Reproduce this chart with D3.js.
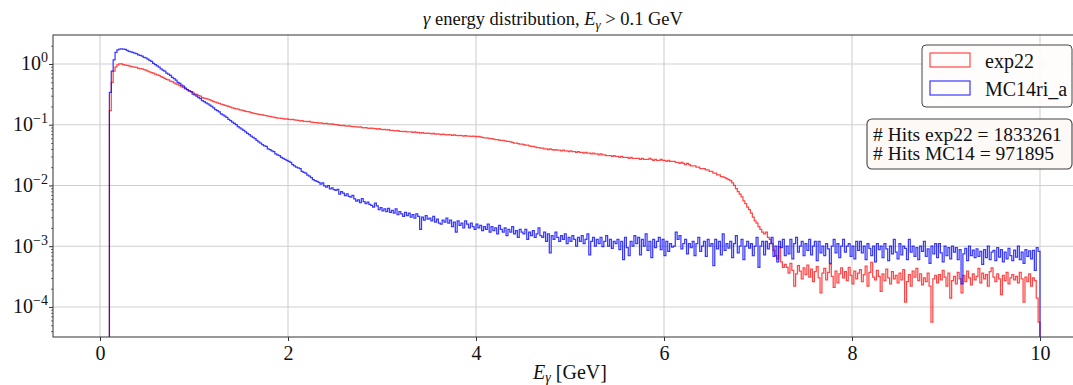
<!DOCTYPE html>
<html>
<head>
<meta charset="utf-8">
<script src="https://cdn.jsdelivr.net/npm/d3@7"></script>
<style>
  body { margin: 0; background: #fff; }
  svg { display: block; }
  svg text { font-family: "Liberation Serif", "Times New Roman", serif; }
</style>
</head>
<body>
<svg id="chart" width="1073" height="385"></svg>
<script>
// histogram binning (left edge of first filled bin, bin width, upper edge)
const binStart = 0.10;
const binWidth = 0.02;
const binEnd = 10.0;

// exp22, normalised counts per bin from 0.10 GeV
const exp22 = [
  0.17, 0.50, 0.76, 0.90, 0.97, 1.00, 1.00, 0.98, 0.96, 0.95,
  0.93, 0.91, 0.90, 0.89, 0.88, 0.85, 0.84, 0.83, 0.81, 0.79,
  0.76, 0.74, 0.72, 0.71, 0.68, 0.66, 0.65, 0.62, 0.60, 0.58,
  0.56, 0.55, 0.52, 0.51, 0.49, 0.47, 0.46, 0.44, 0.42, 0.41,
  0.39, 0.38, 0.36, 0.35, 0.34, 0.32, 0.315, 0.30, 0.295, 0.28,
  0.275, 0.27, 0.263, 0.257, 0.25, 0.24, 0.235, 0.23, 0.224, 0.219,
  0.214, 0.209, 0.204, 0.20, 0.195, 0.19, 0.186, 0.182, 0.18, 0.176,
  0.174, 0.170, 0.166, 0.164, 0.162, 0.158, 0.155, 0.153, 0.151, 0.148,
  0.147, 0.145, 0.142, 0.141, 0.139, 0.137, 0.135, 0.133, 0.131, 0.129,
  0.129, 0.127, 0.126, 0.124, 0.125, 0.123, 0.121, 0.122, 0.120, 0.119,
  0.118, 0.116, 0.117, 0.114, 0.113, 0.112, 0.113, 0.110, 0.109, 0.108,
  0.108, 0.106, 0.107, 0.105, 0.104, 0.105, 0.103, 0.102, 0.103, 0.101,
  0.100, 0.099, 0.098, 0.097, 0.098, 0.096, 0.095, 0.096, 0.094, 0.093,
  0.093, 0.092, 0.091, 0.092, 0.090, 0.089, 0.090, 0.088, 0.087, 0.088,
  0.087, 0.086, 0.085, 0.086, 0.084, 0.083, 0.084, 0.082, 0.083, 0.081,
  0.081, 0.080, 0.079, 0.080, 0.078, 0.078, 0.077, 0.078, 0.076, 0.076,
  0.076, 0.075, 0.076, 0.074, 0.075, 0.073, 0.074, 0.073, 0.072, 0.073,
  0.072, 0.071, 0.072, 0.070, 0.071, 0.070, 0.069, 0.070, 0.069, 0.068,
  0.069, 0.068, 0.067, 0.068, 0.067, 0.066, 0.067, 0.066, 0.065, 0.066,
  0.065, 0.065, 0.064, 0.065, 0.064, 0.063, 0.064, 0.063, 0.062, 0.061,
  0.061, 0.060, 0.059, 0.059, 0.058, 0.057, 0.057, 0.056, 0.055, 0.055,
  0.054, 0.053, 0.053, 0.052, 0.051, 0.050, 0.050, 0.049, 0.048, 0.048,
  0.047, 0.046, 0.046, 0.045, 0.044, 0.044, 0.043, 0.042, 0.042, 0.041,
  0.041, 0.040, 0.040, 0.039, 0.040, 0.039, 0.038, 0.039, 0.038, 0.038,
  0.037, 0.038, 0.037, 0.037, 0.036, 0.037, 0.036, 0.036, 0.035, 0.036,
  0.035, 0.035, 0.034, 0.035, 0.034, 0.034, 0.033, 0.034, 0.033, 0.033,
  0.032, 0.033, 0.032, 0.032, 0.031, 0.031, 0.031, 0.030, 0.031, 0.030,
  0.030, 0.029, 0.030, 0.029, 0.029, 0.029, 0.028, 0.029, 0.028, 0.028,
  0.028, 0.028, 0.027, 0.028, 0.027, 0.027, 0.027, 0.028, 0.027, 0.026,
  0.027, 0.026, 0.026, 0.027, 0.026, 0.026, 0.025, 0.026, 0.025, 0.025,
  0.025, 0.024, 0.024, 0.023, 0.024, 0.023, 0.022, 0.023, 0.022, 0.021,
  0.021, 0.021, 0.020, 0.020, 0.019, 0.019, 0.019, 0.018, 0.018, 0.017,
  0.017, 0.016, 0.016, 0.015, 0.015, 0.014, 0.0138, 0.0135, 0.013, 0.0125,
  0.012, 0.011, 0.010, 0.0089, 0.0079, 0.0072, 0.0065, 0.0056, 0.0050, 0.0044,
  0.0040, 0.0035, 0.0030, 0.0026, 0.0024, 0.0021, 0.0019, 0.0017, 0.0016, 0.0017,
  0.0014, 0.0013, 0.0011, 0.00085, 0.0007, 0.00062, 0.00098, 0.00055, 0.00045, 0.0005,
  4.5e-4, 3.6e-4, 5.2e-4, 4.0e-4, 2.2e-4, 3.5e-4, 4.8e-4, 3.9e-4, 2.9e-4, 4.4e-4,
  3.4e-4, 4.9e-4, 3.1e-4, 4.2e-4, 2.6e-4, 3.8e-4, 4.6e-4, 3.0e-4, 1.7e-4, 3.6e-4,
  4.3e-4, 2.8e-4, 3.7e-4, 5.0e-4, 3.2e-4, 2.1e-4, 3.9e-4, 2.5e-4, 3.5e-4, 4.4e-4,
  3.0e-4, 3.8e-4, 2.7e-4, 4.5e-4, 3.3e-4, 2.4e-4, 3.9e-4, 2.9e-4, 3.6e-4, 4.1e-4,
  2.6e-4, 3.4e-4, 4.7e-4, 2.2e-4, 3.7e-4, 5.4e-4, 3.1e-4, 2.8e-4, 4.0e-4, 3.2e-4,
  1.8e-4, 3.5e-4, 2.7e-4, 4.2e-4, 3.0e-4, 2.4e-4, 3.8e-4, 2.9e-4, 3.3e-4, 2.5e-4,
  3.6e-4, 2.8e-4, 4.1e-4, 1.2e-4, 2.6e-4, 3.4e-4, 2.2e-4, 3.9e-4, 3.1e-4, 4.3e-4,
  2.7e-4, 3.5e-4, 2.3e-4, 3.0e-4, 2.6e-4, 3.6e-4, 2.2e-4, 5.6e-5, 2.9e-4, 3.3e-4,
  2.5e-4, 3.4e-4, 2.8e-4, 4.0e-4, 3.1e-4, 2.2e-4, 3.6e-4, 1.4e-4, 2.7e-4, 3.2e-4,
  2.4e-4, 3.7e-4, 2.9e-4, 1.7e-4, 3.3e-4, 2.6e-4, 3.9e-4, 3.0e-4, 2.3e-4, 3.5e-4,
  2.8e-4, 3.2e-4, 4.3e-4, 2.5e-4, 3.6e-4, 2.9e-4, 3.4e-4, 2.2e-4, 3.8e-4, 4.4e-4,
  3.1e-4, 2.6e-4, 3.5e-4, 2.9e-4, 1.6e-4, 3.3e-4, 2.7e-4, 3.7e-4, 2.4e-4, 3.0e-4,
  3.4e-4, 2.8e-4, 3.2e-4, 2.5e-4, 3.7e-4, 2.9e-4, 1.2e-4, 3.1e-4, 2.6e-4, 3.5e-4,
  2.2e-4, 3.0e-4, 2.7e-4, 1.4e-4, 5.6e-5
];

// MC14ri_a, normalised counts per bin from 0.10 GeV
const mc14 = [
  0.34, 0.76, 1.17, 1.55, 1.70, 1.76, 1.78, 1.76, 1.74, 1.68,
  1.62, 1.58, 1.55, 1.51, 1.48, 1.41, 1.38, 1.35, 1.29, 1.26,
  1.20, 1.15, 1.10, 1.02, 0.98, 0.93, 0.89, 0.83, 0.79, 0.76,
  0.71, 0.68, 0.65, 0.60, 0.575, 0.54, 0.50, 0.48, 0.45, 0.43,
  0.40, 0.38, 0.36, 0.35, 0.32, 0.31, 0.295, 0.28, 0.27, 0.25,
  0.24, 0.23, 0.22, 0.21, 0.20, 0.19, 0.178, 0.17, 0.162, 0.151,
  0.145, 0.138, 0.132, 0.123, 0.117, 0.110, 0.105, 0.100, 0.093, 0.089,
  0.085, 0.081, 0.076, 0.072, 0.069, 0.065, 0.062, 0.059, 0.055, 0.052,
  0.050, 0.047, 0.045, 0.044, 0.040, 0.039, 0.037, 0.036, 0.033, 0.032,
  0.031, 0.029, 0.028, 0.027, 0.026, 0.025, 0.024, 0.022, 0.021, 0.020,
  0.0195, 0.019, 0.017, 0.0165, 0.016, 0.0148, 0.0142, 0.0135, 0.0125, 0.012,
  0.0117, 0.0112, 0.0105, 0.0110, 0.0098, 0.0094, 0.0099, 0.0088, 0.0091, 0.0085,
  0.0083, 0.0086, 0.0072, 0.0079, 0.0075, 0.0068, 0.0073, 0.0066, 0.0064, 0.0069,
  0.0060, 0.0055, 0.0058, 0.0052, 0.0061, 0.0054, 0.0050, 0.0053, 0.0049, 0.0047,
  0.0044, 0.0051, 0.0046, 0.0040, 0.0043, 0.0038, 0.0041, 0.0037, 0.0042, 0.0036,
  0.0039, 0.0035, 0.0041, 0.0033, 0.0037, 0.0034, 0.0031, 0.0036, 0.0032, 0.0035,
  0.0030, 0.0033, 0.0029, 0.0034, 0.0031, 0.0019, 0.0030, 0.0027, 0.0032, 0.0028,
  0.0029, 0.0026, 0.0031, 0.0025, 0.0028, 0.0024, 0.0023, 0.0027, 0.0025, 0.0029,
  0.0024, 0.0027, 0.0021, 0.0025, 0.0017, 0.0026, 0.0022, 0.0024, 0.0020, 0.0026,
  0.0023, 0.0020, 0.0024, 0.0021, 0.0019, 0.0023, 0.0020, 0.0022, 0.0018, 0.0021,
  0.0019, 0.0023, 0.0017, 0.0021, 0.0018, 0.0020, 0.0016, 0.0022, 0.0019, 0.0017,
  0.0020, 0.0015, 0.0019, 0.0017, 0.0021, 0.0016, 0.0018, 0.0014, 0.0019, 0.0017,
  0.0016, 0.0019, 0.0013, 0.0017, 0.0015, 0.0018, 0.0014, 0.0016, 0.0020, 0.0015,
  0.0014, 0.0017, 0.0012, 0.0016, 0.00078, 0.0015, 0.0013, 0.0017, 0.0014, 0.0012,
  0.0015, 0.0013, 0.0016, 0.0011, 0.0014, 0.0012, 0.0015, 0.0013, 0.0010, 0.0014,
  0.0012, 0.0015, 0.0011, 0.0013, 0.0016, 0.00072, 0.0012, 0.0014, 0.0010, 0.0013,
  0.0011, 0.0014, 0.00098, 0.0012, 0.0015, 0.0010, 0.0013, 0.00092, 0.0012, 0.0011,
  0.0013, 0.00088, 0.0012, 0.00060, 0.0014, 0.00095, 0.00070, 0.0012, 0.0010, 0.0015,
  0.0011, 0.0014, 0.00072, 0.0013, 0.0010, 0.0016, 0.00085, 0.0012, 0.00065, 0.0013,
  0.00095, 0.0012, 0.0014, 0.00088, 0.0013, 0.00070, 0.0012, 0.00082, 0.0011, 0.00097,
  0.0010, 0.0017, 0.0013, 0.0015, 0.00090, 0.0011, 0.0013, 0.00075, 0.0011, 0.00095,
  0.0012, 0.00070, 0.0011, 0.0014, 0.00082, 0.0010, 0.0012, 0.00068, 0.0013, 0.0010,
  0.0011, 0.00048, 0.0013, 0.00090, 0.0012, 0.00072, 0.0016, 0.00085, 0.0011, 0.00093,
  0.0012, 0.00065, 0.0011, 0.0015, 0.00078, 0.0010, 0.0013, 0.00060, 0.0010, 0.0012,
  0.00093, 0.0011, 0.00070, 0.0010, 0.0014, 0.00045, 0.0010, 0.0012, 0.00072, 0.0012,
  0.00090, 0.0011, 0.0014, 0.00068, 0.0010, 0.00055, 0.0012, 0.00095, 0.0013, 0.00070,
  0.0010, 0.00075, 0.0013, 0.00062, 0.0011, 0.0014, 0.00080, 0.0010, 0.0012, 0.00070,
  0.0011, 0.00085, 0.0013, 0.00072, 0.0010, 0.0012, 0.00058, 0.0012, 0.00078, 0.0010,
  0.00070, 0.0011, 0.00090, 0.00052, 0.0010, 0.0013, 0.00078, 0.0011, 0.00065, 0.0010,
  0.0013, 0.00080, 0.0010, 0.0011, 0.00068, 0.0010, 0.00062, 0.0012, 0.00085, 0.0012,
  0.00078, 0.0010, 0.00060, 0.0011, 0.00092, 0.00070, 0.0010, 0.00055, 0.0011, 0.00088,
  0.0010, 0.00065, 0.0011, 0.00090, 0.00058, 0.0010, 0.00075, 0.0013, 0.00080, 0.00062,
  0.0011, 0.00072, 0.0010, 0.00092, 0.00060, 0.0013, 0.00080, 0.0010, 0.00068, 0.00095,
  0.00060, 0.0010, 0.00082, 0.0012, 0.00068, 0.00090, 0.00052, 0.0010, 0.00075, 0.0011,
  0.00065, 0.0011, 0.00078, 0.00055, 0.0010, 0.00070, 0.00095, 0.00062, 0.0010, 0.00080,
  0.00095, 0.00060, 0.00088, 0.00024, 0.00075, 0.00092, 0.00058, 0.0010, 0.00070, 0.00086,
  0.00065, 0.00090, 0.00068, 0.00082, 0.00050, 0.00088, 0.00065, 0.0010, 0.00060, 0.00080,
  0.00085, 0.00058, 0.00095, 0.00066, 0.00088, 0.00055, 0.00080, 0.00062, 0.00092, 0.00070,
  0.00058, 0.00086, 0.00066, 0.0010, 0.00060, 0.00080, 0.00052, 0.00088, 0.00068, 0.00084,
  0.00062, 0.00085, 0.00040, 0.00095, 0.00082
];

const seriesNames = ["exp22", "MC14ri_a"];
const seriesColors = ["#ff0000", "#0000ff"];
const seriesAlpha = [0.72, 0.78];
const xTicks = [0, 2, 4, 6, 8, 10];
const yExponents = [-4, -3, -2, -1, 0];
const hitsText = ["# Hits exp22 = 1833261", "# Hits MC14 = 971895"];

const plot = { left: 53, right: 1087, top: 35, bottom: 337 };
const font = "Liberation Serif";

const svg = d3.select("#chart");

const x = d3.scaleLinear().domain([-0.5, 10.5]).range([plot.left, plot.right]);
const y = d3.scaleLog().domain([3.2e-5, 3.0]).range([plot.bottom, plot.top]);

svg.append("defs").append("clipPath").attr("id", "plotclip")
  .append("rect")
  .attr("x", plot.left).attr("y", plot.top)
  .attr("width", plot.right - plot.left).attr("height", plot.bottom - plot.top);

// grid
const grid = svg.append("g").attr("class", "grid");
grid.selectAll("line.gx").data(xTicks).enter().append("line")
  .attr("x1", (d) => x(d)).attr("x2", (d) => x(d))
  .attr("y1", plot.top).attr("y2", plot.bottom)
  .attr("stroke", "#cfcfcf").attr("stroke-width", 1.1);
grid.selectAll("line.gy").data(yExponents).enter().append("line")
  .attr("y1", (d) => y(Math.pow(10, d))).attr("y2", (d) => y(Math.pow(10, d)))
  .attr("x1", plot.left).attr("x2", plot.right)
  .attr("stroke", "#cfcfcf").attr("stroke-width", 1.1);

// step histograms
function stepPoints(values) {
  const pts = [[binStart, null]];
  values.forEach((v, i) => pts.push([binStart + i * binWidth, v]));
  pts.push([binEnd, values[values.length - 1]]);
  pts.push([binEnd, null]);
  return pts;
}

const line = d3.line()
  .x((d) => x(d[0]))
  .y((d) => (d[1] === null || d[1] <= 0) ? plot.bottom + 5 : y(d[1]))
  .curve(d3.curveStepAfter);

const hists = svg.append("g").attr("clip-path", "url(#plotclip)");
[exp22, mc14].forEach((vals, i) => {
  hists.append("path")
    .attr("d", line(stepPoints(vals)))
    .attr("fill", "none")
    .attr("stroke", seriesColors[i])
    .attr("stroke-opacity", seriesAlpha[i])
    .attr("stroke-width", 1.25);
});

// spines
svg.append("rect")
  .attr("x", plot.left).attr("y", plot.top)
  .attr("width", plot.right - plot.left).attr("height", plot.bottom - plot.top)
  .attr("fill", "none").attr("stroke", "#333").attr("stroke-width", 1);

// x axis
const xAxis = svg.append("g")
  .attr("transform", `translate(0,${plot.bottom})`)
  .call(d3.axisBottom(x).tickValues(xTicks).tickSize(4).tickPadding(5).tickFormat(d3.format("d")));
xAxis.select(".domain").remove();
xAxis.attr("font-family", null);
xAxis.selectAll(".tick line").attr("stroke", "#333");
xAxis.selectAll(".tick text")
  .style("font-family", font).attr("font-size", 20).attr("fill", "#111");

// y axis: minor ticks, then major ticks
const minors = [];
for (let e = -5; e <= 0; e++) {
  for (let m = 2; m <= 9; m++) {
    const v = m * Math.pow(10, e);
    if (v > 3.2e-5 && v < 3.0) minors.push(v);
  }
}
const yMinor = svg.append("g")
  .attr("transform", `translate(${plot.left},0)`)
  .call(d3.axisLeft(y).tickValues(minors).tickSize(2).tickFormat(""));
yMinor.select(".domain").remove();
yMinor.selectAll(".tick line").attr("stroke", "#333").attr("stroke-width", 0.7);

const yMajor = svg.append("g")
  .attr("transform", `translate(${plot.left},0)`)
  .call(d3.axisLeft(y).tickValues(yExponents.map((e) => Math.pow(10, e))).tickSize(4).tickFormat(""));
yMajor.select(".domain").remove();
yMajor.selectAll(".tick line").attr("stroke", "#333");

const yLab = svg.append("g").attr("fill", "#111");
yExponents.forEach((e) => {
  const t = yLab.append("text")
    .attr("x", plot.left - 5)
    .attr("y", y(Math.pow(10, e)) + 6.5)
    .attr("text-anchor", "end")
    .style("font-family", font)
    .attr("font-size", 20);
  t.append("tspan").text("10");
  t.append("tspan").attr("dy", -8).attr("font-size", 14).text(e < 0 ? "\u2212" + (-e) : String(e));
});

// title
const title = svg.append("text")
  .attr("x", 553).attr("y", 25)
  .attr("text-anchor", "middle")
  .style("font-family", font).attr("font-size", 18.5).attr("fill", "#111");
title.append("tspan").attr("font-style", "italic").text("\u03b3");
title.append("tspan").text(" energy distribution, ");
title.append("tspan").attr("font-style", "italic").text("E");
title.append("tspan").attr("font-style", "italic").attr("font-size", 13).attr("dy", 4).text("\u03b3");
title.append("tspan").attr("dy", -4).text(" > 0.1 GeV");

// x label
const xl = svg.append("text")
  .attr("x", (plot.left + plot.right) / 2).attr("y", 379)
  .attr("text-anchor", "middle")
  .style("font-family", font).attr("font-size", 20).attr("fill", "#111");
xl.append("tspan").attr("font-style", "italic").text("E");
xl.append("tspan").attr("font-style", "italic").attr("font-size", 14).attr("dy", 3).text("\u03b3");
xl.append("tspan").attr("dy", -3).text(" [GeV]");

// legend
const legend = svg.append("g");
legend.append("rect")
  .attr("x", 922).attr("y", 45).attr("width", 150).attr("height", 62).attr("rx", 4)
  .attr("fill", "#fffdfc").attr("fill-opacity", 0.9)
  .attr("stroke", "#444").attr("stroke-width", 1);
seriesNames.forEach((name, i) => {
  legend.append("rect")
    .attr("x", 930).attr("y", 53 + i * 28).attr("width", 40).attr("height", 14)
    .attr("fill", "none").attr("stroke", seriesColors[i]).attr("stroke-opacity", seriesAlpha[i]).attr("stroke-width", 1.2);
  legend.append("text")
    .attr("x", 985).attr("y", 68 + i * 28)
    .style("font-family", font)
    .attr("font-size", 20).attr("fill", "#111")
    .text(name);
});

// hits box
const hits = svg.append("g");
hits.append("rect")
  .attr("x", 867).attr("y", 119).attr("width", 205).attr("height", 50).attr("rx", 5)
  .attr("fill", "#fdf9f7").attr("stroke", "#444").attr("stroke-width", 1.1);
hitsText.forEach((t, i) => {
  hits.append("text")
    .attr("x", 873).attr("y", 141 + i * 19)
    .style("font-family", font)
    .attr("font-size", 19.5).attr("fill", "#111")
    .text(t);
});
</script>
</body>
</html>
